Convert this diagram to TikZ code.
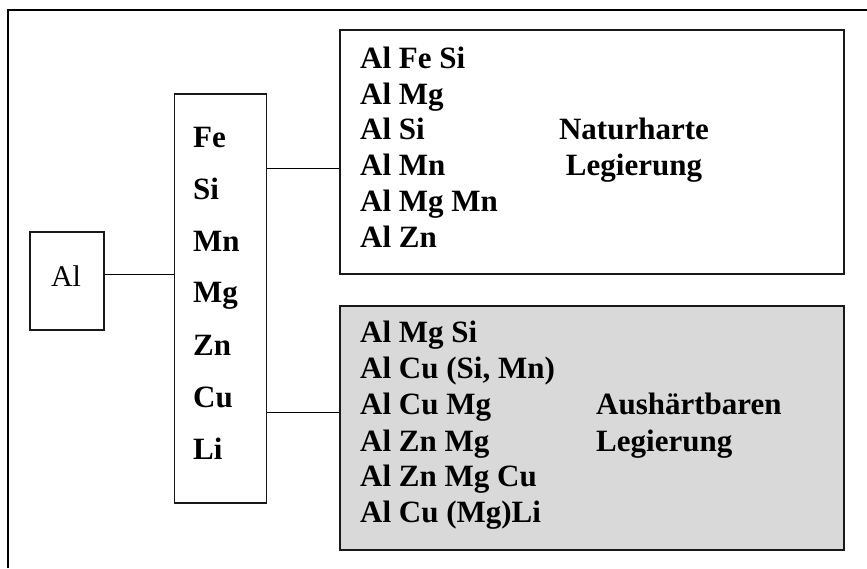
\documentclass[tikz,border=0pt]{standalone}
\usepackage{fontspec}
\setmainfont{Liberation Serif}
\begin{document}
\begin{tikzpicture}[x=1pt,y=-1pt,
  box/.style={draw=black!90, line width=1.3pt, inner sep=0pt},
  conn/.style={draw=black, line width=1pt},
  txt/.style={anchor=base west, inner sep=0pt, font=\fontsize{31}{31}\selectfont\bfseries},
  reg/.style={anchor=base, inner sep=0pt, font=\fontsize{30}{30}\selectfont}]
\useasboundingbox (0,0) rectangle (867,568);
% outer frame
\coordinate (fa) at (8,568);
\coordinate (fb) at (8,10);
\coordinate (fc) at (867,10);
\draw[line width=1.4pt] (fa) -- (fb) -- (fc);
% boxes
\node[box, minimum width=74pt, minimum height=98pt] (al) at (67,281) {};
\node[box, minimum width=92pt, minimum height=409pt] (mid) at (220.5,298.5) {};
\node[box, minimum width=504pt, minimum height=244pt] (top) at (592,152) {};
\node[box, fill={rgb,255:red,217;green,217;blue,217}, minimum width=504pt, minimum height=244pt] (bot) at (592,428) {};
% connectors
\coordinate (y1) at (0,274);
\coordinate (y2) at (0,168);
\coordinate (y3) at (0,412);
\draw[conn] (al.east |- y1) -- (mid.west |- y1);
\draw[conn] (mid.east |- y2) -- (top.west |- y2);
\draw[conn] (mid.east |- y3) -- (bot.west |- y3);
% Al
\node[reg] (altxt) at (66,286) {Al};
% middle
\node[txt] (m1) at (193,147.5) {Fe};
\node[txt] (m2) at (193,199) {Si};
\node[txt] (m3) at (193,251) {Mn};
\node[txt] (m4) at (193,302.5) {Mg};
\node[txt] (m5) at (193,355) {Zn};
\node[txt] (m6) at (193,407) {Cu};
\node[txt] (m7) at (193,459) {Li};
% top box
\node[txt] (t1) at (360,68) {Al Fe Si};
\node[txt] (t2) at (360,104) {Al Mg};
\node[txt] (t3) at (360,139.5) {Al Si};
\node[txt] (t4) at (360,175.5) {Al Mn};
\node[txt] (t5) at (360,211) {Al Mg Mn};
\node[txt] (t6) at (360,247) {Al Zn};
\node[txt, anchor=base] (t7) at (634,139.5) {Naturharte};
\node[txt, anchor=base] (t8) at (634,175.5) {Legierung};
% bottom box
\node[txt] (b1) at (360,342) {Al Mg Si};
\node[txt] (b2) at (360,378.5) {Al Cu (Si, Mn)};
\node[txt] (b3) at (360,414.5) {Al Cu Mg};
\node[txt] (b4) at (360,451) {Al Zn Mg};
\node[txt] (b5) at (360,486.5) {Al Zn Mg Cu};
\node[txt] (b6) at (360,522.5) {Al Cu (Mg)Li};
\node[txt] (b7) at (596,414.5) {Aushärtbaren};
\node[txt] (b8) at (596,451) {Legierung};
\end{tikzpicture}
\end{document}
